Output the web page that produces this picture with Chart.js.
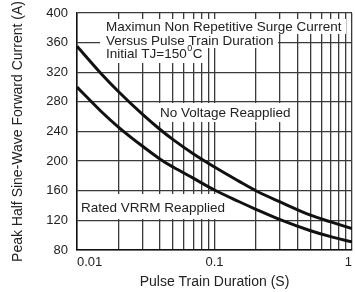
<!DOCTYPE html>
<html>
<head>
<meta charset="utf-8">
<script src="https://cdn.jsdelivr.net/npm/chart.js@4/dist/chart.umd.min.js"></script>
<style>
  html, body { margin: 0; padding: 0; background: #fff; }
  #wrap { width: 355px; height: 292px; }
</style>
</head>
<body>
<div id="wrap"><canvas id="myChart"></canvas></div>
<script>
// pulse train duration (s) and peak current (A)
const pulseDuration = [0.01, 0.015, 0.02, 0.03, 0.04, 0.05, 0.07, 0.1, 0.15, 0.2, 0.3, 0.5, 0.7, 1]
const noVoltage = [355, 318, 294, 263, 243, 229, 210, 192, 173, 160, 145, 127, 118, 109]
const ratedVrrm = [300, 267, 246, 220, 203, 192, 177, 161, 145.5, 135, 121, 106, 98, 91]
const xTickLabels = ['0.01', '0.1', '1']

const font = 'Arial, "Liberation Sans", sans-serif'
const ink = '#222'
const gridColor = '#3a3a3a'

function points(ys) {
    return pulseDuration.map((x, i) => ({ x, y: ys[i] }))
}

// gridlines at every 1..9 step of each decade
function decadeTicks() {
    const ticks = []
    for (const d of [0.01, 0.1]) {
        for (let k = 1; k <= 9; k++) ticks.push({ value: +(k * d).toPrecision(3) })
    }
    ticks.push({ value: 1 })
    return ticks
}

// text boxes with a white backing that hides the grid behind them
const notes = {
    id: 'notes',
    beforeDatasetsDraw(chart) {
        const { ctx, chartArea: a } = chart
        ctx.save()
        ctx.font = '13.5px ' + font
        ctx.textBaseline = 'middle'
        ctx.fillStyle = '#fff'
        ctx.fillRect(a.left + 23, a.top + 6, 246, 15)
        ctx.fillRect(a.left + 23, a.top + 21, 178, 14)
        ctx.fillRect(a.left + 23, a.top + 35, 107, 15)
        ctx.fillRect(a.left + 78, a.top + 90, 137, 19)
        ctx.fillRect(a.left + 1, a.top + 181, 148, 25)
        ctx.fillStyle = ink
        ctx.fillText('Maximun Non Repetitive Surge Current', a.left + 29, a.top + 14)
        ctx.fillText('Versus Pulse Train Duration', a.left + 29, a.top + 28)
        const t = 'Initial TJ=150'
        ctx.fillText(t, a.left + 29, a.top + 41)
        const w = ctx.measureText(t).width
        ctx.font = '9px ' + font
        ctx.fillText('0', a.left + 29 + w + 0.5, a.top + 36)
        const w0 = ctx.measureText('0').width
        ctx.font = '13.5px ' + font
        ctx.fillText('C', a.left + 29 + w + w0 + 1, a.top + 41)
        ctx.fillText('No Voltage Reapplied', a.left + 83, a.top + 100)
        ctx.fillText('Rated VRRM Reapplied', a.left + 4, a.top + 195)
        ctx.restore()
    }
}

const canvas = document.getElementById('myChart')
let myChart

const config = {
    type: 'line',
    data: {
        datasets: [{
            label: 'No Voltage Reapplied',
            data: points(noVoltage),
            borderColor: '#111',
            borderWidth: 3,
            pointRadius: 0,
            cubicInterpolationMode: 'monotone'
        }, {
            label: 'Rated VRRM Reapplied',
            data: points(ratedVrrm),
            borderColor: '#111',
            borderWidth: 3,
            pointRadius: 0,
            cubicInterpolationMode: 'monotone'
        }]
    },
    options: {
        responsive: true,
        maintainAspectRatio: false,
        animation: false,
        layout: { padding: { top: 13, right: 3, left: 0, bottom: 0 } },
        plugins: {
            legend: { display: false },
            tooltip: { enabled: false }
        },
        scales: {
            x: {
                type: 'logarithmic',
                min: 0.01,
                max: 1,
                afterBuildTicks: scale => { scale.ticks = decadeTicks() },
                afterFit: scale => { scale.height = 42 },
                // tick marks are invisible, they only space the labels
                grid: { color: gridColor, lineWidth: 1.3, tickLength: 5, tickColor: 'rgba(0,0,0,0)' },
                border: { color: '#111', width: 1.5 },
                ticks: {
                    autoSkip: false,
                    maxRotation: 0,
                    align: 'inner',
                    padding: 0,
                    color: ink,
                    font: { family: font, size: 13 },
                    callback: v => {
                        const s = String(+v.toPrecision(3))
                        return xTickLabels.includes(s) ? s : ''
                    }
                },
                title: {
                    display: true,
                    text: 'Pulse Train Duration (S)',
                    color: ink,
                    font: { family: font, size: 14 },
                    padding: { top: 0, bottom: 1 }
                }
            },
            y: {
                min: 80,
                max: 400,
                afterFit: scale => { scale.width = 77 },
                grid: { color: gridColor, lineWidth: 1.3, tickLength: 9, tickColor: 'rgba(0,0,0,0)' },
                border: { color: '#111', width: 1.5 },
                ticks: {
                    stepSize: 40,
                    padding: 0,
                    color: ink,
                    font: { family: font, size: 13 }
                },
                title: {
                    display: true,
                    text: 'Peak Half Sine-Wave Forward Current (A)',
                    color: ink,
                    font: { family: font, size: 14 },
                    padding: { top: 10, bottom: 0 }
                }
            }
        }
    },
    plugins: [notes]
}

if (canvas) {
    myChart = new Chart(canvas, config)
}
</script>
</body>
</html>
